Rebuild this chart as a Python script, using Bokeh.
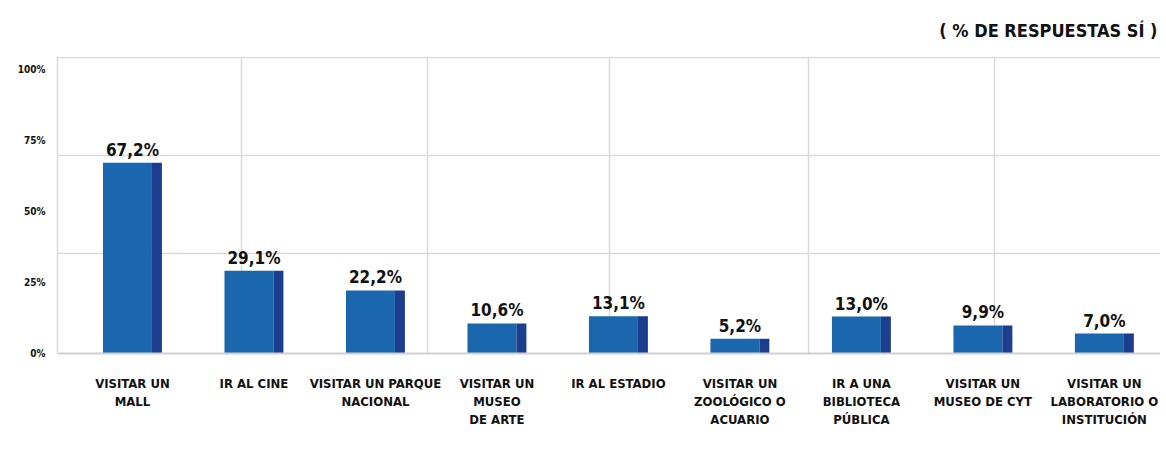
from bokeh.plotting import figure
from bokeh.models import FixedTicker
from bokeh.core.properties import value
from bokeh.embed import file_html
from bokeh.resources import INLINE

# ---- data ----
categories = [
    "VISITAR UN\nMALL",
    "IR AL CINE",
    "VISITAR UN PARQUE\nNACIONAL",
    "VISITAR UN\nMUSEO\nDE ARTE",
    "IR AL ESTADIO",
    "VISITAR UN\nZOOLÓGICO O\nACUARIO",
    "IR A UNA\nBIBLIOTECA\nPÚBLICA",
    "VISITAR UN\nMUSEO DE CYT",
    "VISITAR UN\nLABORATORIO O\nINSTITUCIÓN",
]
values = [67.2, 29.1, 22.2, 10.6, 13.1, 5.2, 13.0, 9.9, 7.0]
y_ticks = [0, 25, 50, 75, 100]
y_tick_labels = ["0%", "25%", "50%", "75%", "100%"]
title_text = "( % DE RESPUESTAS SÍ )"

# ---- style ----
FONT = "DejaVu Sans Condensed"
FACE = "#1a67ad"
SIDE = "#1d3d8f"
GRID = "#dadada"

x = list(range(len(categories)))
labels = [f"{v:.1f}".replace(".", ",") + "%" for v in values]

p = figure(width=1160, height=447, output_backend="svg", toolbar_location=None,
           x_range=(-0.617, 8.462), y_range=(0, 104.6),
           min_border_left=57, min_border_right=0, min_border_top=56,
           min_border_bottom=94)
p.outline_line_color = None
p.background_fill_color = "white"
p.border_fill_color = "white"

# bars: front face + darker side strip
p.vbar(x=[i - 0.041 for i in x], width=0.403, top=values, bottom=0,
       fill_color=FACE, line_color=None)
p.vbar(x=[i + 0.2016 for i in x], width=0.082, top=values, bottom=0,
       fill_color=SIDE, line_color=None)

# value labels
p.text(x=x, y=values, text=labels, text_align="center", text_baseline="bottom",
       y_offset=-3, text_font=value(FONT), text_font_style="bold",
       text_font_size="17px", text_color="#111111")

# grid
p.xgrid.ticker = FixedTicker(ticks=[0.897, 2.428, 3.926, 5.564, 7.095])
p.ygrid.ticker = FixedTicker(ticks=[35.2, 69.7, 104.3])
p.grid.grid_line_color = GRID
p.grid.grid_line_width = 1.5

# x axis
p.xaxis.ticker = FixedTicker(ticks=x)
p.xaxis.major_label_overrides = {i: c for i, c in zip(x, categories)}
p.xaxis.axis_line_color = "#d0d0d0"
p.xaxis.axis_line_width = 2
p.xaxis.major_tick_line_color = None
p.xaxis.minor_tick_line_color = None
p.xaxis.major_label_standoff = 16
p.xaxis.major_label_text_font = FONT
p.xaxis.major_label_text_font_style = "bold"
p.xaxis.major_label_text_font_size = "13px"
p.xaxis.major_label_text_color = "#111111"
p.xaxis.major_label_text_line_height = 1.2

# y axis
p.yaxis.ticker = FixedTicker(ticks=y_ticks)
p.yaxis.major_label_overrides = {t: l for t, l in zip(y_ticks, y_tick_labels)}
p.yaxis.axis_line_color = GRID
p.yaxis.axis_line_width = 1.5
p.yaxis.major_tick_line_color = None
p.yaxis.minor_tick_line_color = None
p.yaxis.major_label_standoff = 6
p.yaxis.major_label_text_font = FONT
p.yaxis.major_label_text_font_style = "bold"
p.yaxis.major_label_text_font_size = "10px"
p.yaxis.major_label_text_color = "#111111"

# title
p.title.text = title_text
p.title.align = "right"
p.title.text_font = FONT
p.title.text_font_style = "bold"
p.title.text_font_size = "18px"
p.title.text_color = "#111111"
p.title.offset = 3
p.title.standoff = 32

open("out.html", "w").write(file_html(p, INLINE))
